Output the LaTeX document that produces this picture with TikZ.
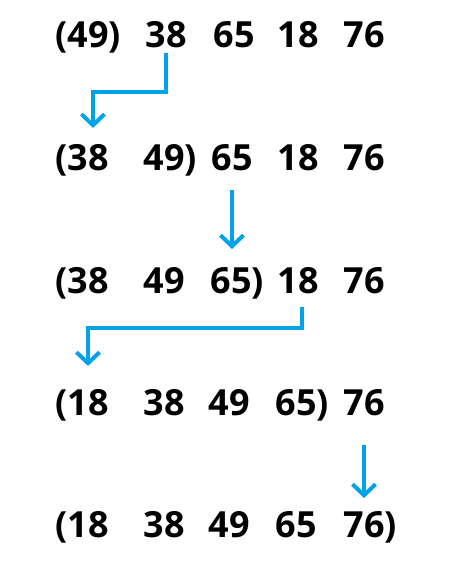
\documentclass[tikz,border=0pt]{standalone}
\usepackage{fontspec}
\setmainfont{Open Sans}
\usetikzlibrary{arrows.meta, positioning}
\definecolor{arrowblue}{RGB}{0,162,232}
\tikzset{%
num/.style={
    font=\bfseries\fontsize{36}{36}\selectfont,
    anchor=base, inner sep=0pt, outer sep=0pt
  },
arr/.style={
    draw=arrowblue, line width=4pt,
    -{Straight Barb[length=11pt,width=23pt]}
  }
}
\begin{document}
\begin{tikzpicture}[x=1pt,y=-1pt]
\useasboundingbox (0,0) rectangle (467,564);

% row 1
\node[num] (r1c1) at (88,48)  {\llap{(}49\rlap{)}};
\node[num] (r1c2) at (166,48) {38};
\node[num] (r1c3) at (234,48) {65};
\node[num] (r1c4) at (298,48) {18};
\node[num] (r1c5) at (364,48) {76};
% row 2
\node[num] (r2c1) at (88,171)  {\llap{(}38};
\node[num] (r2c2) at (164,171) {49\rlap{)}};
\node[num] (r2c3) at (232,171) {65};
\node[num] (r2c4) at (298,171) {18};
\node[num] (r2c5) at (364,171) {76};
% row 3
\node[num] (r3c1) at (88,293)  {\llap{(}38};
\node[num] (r3c2) at (164,293) {49};
\node[num] (r3c3) at (231,293) {65\rlap{)}};
\node[num] (r3c4) at (298,293) {18};
\node[num] (r3c5) at (364,293) {76};
% row 4
\node[num] (r4c1) at (88,415)  {\llap{(}18};
\node[num] (r4c2) at (164,415) {38};
\node[num] (r4c3) at (229,415) {49};
\node[num] (r4c4) at (296,415) {65\rlap{)}};
\node[num] (r4c5) at (364,415) {76};
% row 5
\node[num] (r5c1) at (88,537)  {\llap{(}18};
\node[num] (r5c2) at (164,537) {38};
\node[num] (r5c3) at (229,537) {49};
\node[num] (r5c4) at (296,537) {65};
\node[num] (r5c5) at (364,537) {76\rlap{)}};

% insertion steps
\draw[arr, shorten >=17pt] ([yshift=-5pt]r1c2.south) -- ++(0,39) -| ([xshift=5pt]r2c1.north);
\draw[arr, shorten <=19pt, shorten >=18pt] (r2c3.south) -- (r2c3.south |- r3c3.north);
\draw[arr, shorten >=23pt] ([xshift=4pt,yshift=-14pt]r3c4.south) -- ++(0,21) -| (r4c1.north);
\draw[arr, shorten <=30pt, shorten >=13pt] (r4c5.south) -- (r4c5.south |- r5c5.north);
\end{tikzpicture}
\end{document}
